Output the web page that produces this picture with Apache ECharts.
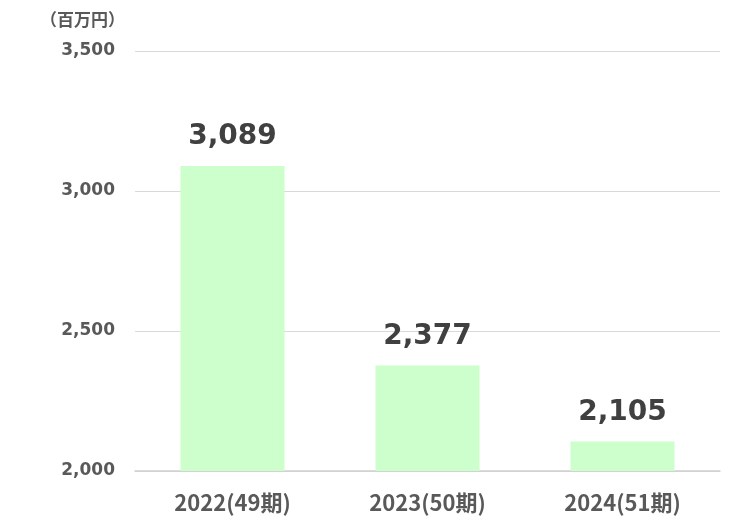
<!DOCTYPE html>
<html>
<head>
<meta charset="utf-8">
<script src="https://cdn.jsdelivr.net/npm/echarts@6/dist/echarts.min.js"></script>
<style>
html, body { margin: 0; padding: 0; background: #fff; }
#chart { width: 745px; height: 525px; }
</style>
</head>
<body>
<div id="chart"></div>
<script>
var categories = ['2022(49期)', '2023(50期)', '2024(51期)'];
var sales = [3089, 2377, 2105];
var yTicks = [2000, 2500, 3000, 3500];

var dom = document.getElementById('chart');
var myChart = echarts.init(dom);

var option = {
	animation: false,
	grid: { left: 135, right: 25, top: 51, bottom: 54 },
	graphic: [{
		type: 'text',
		left: 40,
		top: 11,
		style: {
			text: '（百万円）',
			fill: '#595959',
			font: 'bold 17px "Noto Sans CJK JP"'
		}
	}],
	xAxis: {
		type: 'category',
		data: categories,
		axisLine: { lineStyle: { color: '#d0d0d0', width: 1.5 } },
		axisTick: { show: false },
		axisLabel: {
			color: '#595959',
			fontSize: 22,
			fontWeight: 'bold',
			fontFamily: '"Noto Sans CJK JP"',
			margin: 21
		}
	},
	yAxis: {
		type: 'value',
		min: yTicks[0],
		max: yTicks[yTicks.length - 1],
		interval: 500,
		axisLine: { show: false },
		axisTick: { show: false },
		splitLine: { lineStyle: { color: '#d9d9d9', width: 1.2 } },
		axisLabel: {
			color: '#595959',
			fontSize: 17,
			fontWeight: 'bold',
			fontFamily: '"DejaVu Sans"',
			margin: 20,
			padding: [5, 0, 0, 0],
			formatter: function (v) { return v.toLocaleString('en-US'); }
		}
	},
	series: [{
		type: 'bar',
		data: sales,
		barWidth: 104,
		itemStyle: { color: '#ccffcc' },
		label: {
			show: true,
			position: 'top',
			distance: 15,
			color: '#404040',
			fontSize: 28,
			fontWeight: 'bold',
			fontFamily: '"DejaVu Sans"',
			formatter: function (p) { return p.value.toLocaleString('en-US'); }
		}
	}]
};

myChart.setOption(option, true);
window.onresize = function () { myChart.resize(); };
</script>
</body>
</html>
